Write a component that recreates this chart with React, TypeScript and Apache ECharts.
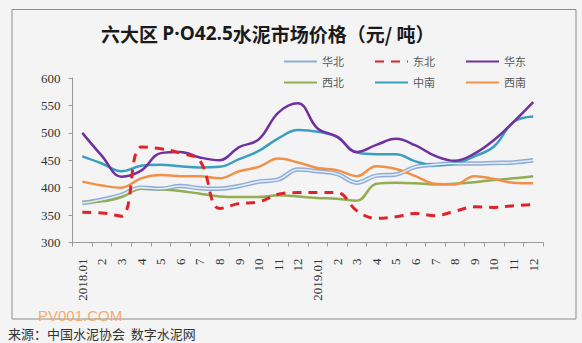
import React, { useEffect, useRef } from "react";
import * as echarts from "echarts";

const categories = [
  "2018.01", "2", "3", "4", "5", "6", "7", "8", "9", "10", "11", "12",
  "2019.01", "2", "3", "4", "5", "6", "7", "8", "9", "10", "11", "12",
];

const huabei = [372, 378, 387, 400, 398, 403, 399, 398, 403, 411, 415, 433, 430, 425, 409, 422, 424, 438, 442, 444, 444, 445, 446, 450];
const dongbei = [355, 354, 348, 474, 471, 463, 449, 362, 371, 374, 388, 391, 391, 391, 358, 344, 347, 353, 349, 357, 365, 364, 367, 369];
const huadong = [500, 458, 420, 431, 463, 465, 455, 450, 474, 488, 537, 554, 508, 493, 465, 478, 489, 477, 458, 449, 462, 487, 520, 556];
const xibei = [374, 375, 383, 398, 397, 394, 389, 384, 383, 383, 386, 384, 381, 380, 376, 407, 409, 408, 406, 407, 410, 414, 417, 421];
const zhongnan = [457, 444, 430, 440, 442, 439, 437, 438, 452, 467, 490, 505, 502, 492, 464, 461, 461, 448, 441, 444, 457, 475, 520, 530];
const xinan = [411, 404, 400, 417, 423, 421, 421, 417, 430, 438, 453, 446, 436, 432, 421, 439, 434, 421, 407, 406, 421, 416, 409, 408];

const yTicks = { min: 300, max: 600, interval: 50 };

const titleMain = "六大区 ";
const titleBold = "P·O42.5";
const titleTail = "水泥市场价格（元/ 吨）";
const sourceText = "来源：中国水泥协会  数字水泥网";
const watermark = "PV001.COM";

export default function App() {
  const ref = useRef<HTMLDivElement>(null);
  useEffect(() => {
    if (!ref.current) return;
    const chart = echarts.init(ref.current, null, { renderer: "svg" });
    const serif = "'Liberation Serif', 'Noto Sans CJK SC', serif";
    const lineBase = (name: string, data: number[], color: string, width: number, extra: any = {}) => ({
      name,
      type: "line",
      data,
      smooth: 0.4,
      symbol: "none",
      showSymbol: false,
      lineStyle: { color, width, ...extra },
      itemStyle: { color },
      z: 2,
    });
    const legendCommon = {
      left: 278,
      itemWidth: 33,
      itemHeight: 12,
      itemGap: 30,
      itemStyle: { opacity: 0 },
      textStyle: { fontSize: 11, color: "#595959", fontFamily: serif },
    };
    chart.setOption({
      animation: false,
      backgroundColor: "#f4f4f4",
      title: {
        left: 96,
        top: 17,
        text: `{a|${titleMain}}{b|${titleBold}}{a|${titleTail}}`,
        textStyle: {
          rich: {
            a: { fontSize: 19, color: "#1a1a1a", fontFamily: "'Noto Sans CJK SC', sans-serif", lineHeight: 22 },
            b: { fontSize: 19, color: "#1a1a1a", fontWeight: "bold", fontFamily: "'Open Sans', sans-serif", lineHeight: 22 },
          },
        },
      },
      legend: [
        { ...legendCommon, data: ["华北", "东北", "华东"], top: 51 },
        { ...legendCommon, data: ["西北", "中南", "西南"], top: 72 },
      ],
      grid: { left: 72.5, right: 39, top: 78, bottom: 100.5, containLabel: false },
      xAxis: {
        type: "category",
        data: categories,
        boundaryGap: true,
        axisLine: { show: true, lineStyle: { color: "#9a9a9a" } },
        axisTick: { show: true, length: 4, interval: 0, lineStyle: { color: "#9a9a9a" } },
        axisLabel: {
          interval: 0,
          rotate: 90,
          margin: 16,
          fontSize: 13,
          color: "#333",
          fontFamily: serif,
        },
        splitLine: { show: false },
      },
      yAxis: {
        type: "value",
        min: yTicks.min,
        max: yTicks.max,
        interval: yTicks.interval,
        axisLine: { show: true, lineStyle: { color: "#9a9a9a" } },
        axisTick: { show: true, length: 4, lineStyle: { color: "#9a9a9a" } },
        axisLabel: { fontSize: 13, color: "#333", fontFamily: serif, margin: 12 },
        splitLine: { show: false },
      },
      series: [
        lineBase("华北", huabei, "#8eadd6", 4.5),
        { ...lineBase("华北", huabei, "#e3ebf6", 1.6), z: 3 },
        lineBase("西北", xibei, "#92ad52", 2.5),
        lineBase("西南", xinan, "#f0914a", 2.5),
        lineBase("中南", zhongnan, "#3a9fbf", 2.5),
        { ...lineBase("华东", huadong, "#7030a0", 2.5), z: 4 },
        { ...lineBase("东北", dongbei, "#e0232b", 3, { type: [9, 7] }), z: 5 },
      ],
      graphic: [
        {
          type: "rect",
          shape: { x: 12, y: 9.5, width: 564, height: 309.5 },
          style: { fill: "none", stroke: "#8c8c8c", lineWidth: 1 },
          silent: true,
          z: 0,
        },
        {
          type: "text",
          x: 38,
          y: 315,
          style: {
            text: watermark,
            fill: "#f5a25a",
            font: "15px 'Liberation Sans', Arial, sans-serif",
            verticalAlign: "middle",
            opacity: 0.9,
          },
          z: 10,
        },
        {
          type: "text",
          x: 8,
          y: 333,
          style: {
            text: sourceText,
            fill: "#333",
            font: "13px 'Noto Sans CJK SC', sans-serif",
            verticalAlign: "middle",
          },
          z: 10,
        },
      ],
    });
    return () => chart.dispose();
  }, []);
  return (
    <div
      ref={ref}
      style={{ position: "fixed", left: 0, top: 0, width: 582, height: 343 }}
    />
  );
}
